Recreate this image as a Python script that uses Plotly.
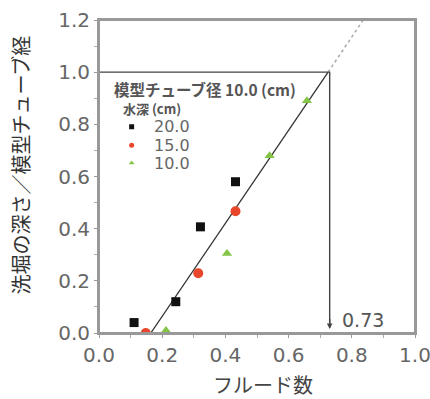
import plotly.graph_objects as go

# data
depth_labels = ["20.0", "15.0", "10.0"]
froude_20 = [0.111, 0.243, 0.321, 0.432]
ratio_20 = [0.04, 0.12, 0.407, 0.58]
froude_15 = [0.148, 0.314, 0.432]
ratio_15 = [0.0, 0.229, 0.467]
froude_10 = [0.212, 0.405, 0.54, 0.658]
ratio_10 = [0.01, 0.305, 0.68, 0.89]
fit_x = [0.164, 0.725]
fit_y = [0.0, 1.0]
ext_x = [0.725, 0.836]
ext_y = [1.0, 1.2]
critical_froude = 0.73
ratio_one = 1.0
x_ticks = [0.0, 0.2, 0.4, 0.6, 0.8, 1.0]
y_ticks = [0.0, 0.2, 0.4, 0.6, 0.8, 1.0, 1.2]

colors = ["#111111", "#e9472c", "#84c446"]
symbols = ["square", "circle", "triangle-up"]
sizes = [9, 10, 9]
xs = [froude_20, froude_15, froude_10]
ys = [ratio_20, ratio_15, ratio_10]
legend_ids = ["legend", "legend2", "legend3"]
legend_y = [0.659, 0.600, 0.543]

fig = go.Figure()

# fit line and extension
fig.add_trace(go.Scatter(x=fit_x, y=fit_y, mode="lines",
                         line=dict(color="#333333", width=1.3), showlegend=False))
fig.add_trace(go.Scatter(x=ext_x, y=ext_y, mode="lines",
                         line=dict(color="#aaaaaa", width=1.5, dash="dot"), showlegend=False))

# critical box lines
fig.add_trace(go.Scatter(x=[0, critical_froude, critical_froude], y=[ratio_one, ratio_one, 0.03],
                         mode="lines", line=dict(color="#444444", width=1.4), showlegend=False))
fig.add_annotation(x=critical_froude, y=0.015, ax=critical_froude, ay=0.06, axref="x", ayref="y",
                   xref="x", yref="y", showarrow=True, arrowhead=2, arrowsize=0.8,
                   arrowwidth=1.4, arrowcolor="#444444", text="")
fig.add_annotation(x=0.762, y=0.05, xref="x", yref="y", text=f"{critical_froude:.2f}",
                   showarrow=False, xanchor="left", yanchor="middle",
                   font=dict(family="DejaVu Sans", size=19, color="#555555"))

legend_common = dict(x=0.04, xanchor="left", yanchor="middle", bgcolor="rgba(0,0,0,0)",
                     font=dict(family="DejaVu Sans", size=10, color="#666666"),
                     borderwidth=0, itemwidth=30)

for i in range(3):
    fig.add_trace(go.Scatter(x=xs[i], y=ys[i], mode="markers",
                             marker=dict(color=colors[i], symbol=symbols[i], size=sizes[i]),
                             showlegend=False))
    fig.add_trace(go.Scatter(x=[None], y=[None], mode="markers", name="",
                             legend=legend_ids[i],
                             marker=dict(color=colors[i], symbol=symbols[i], size=5)))
    fig.add_annotation(x=0.168, y=legend_y[i], xref="paper", yref="paper", text=depth_labels[i],
                       showarrow=False, xanchor="left", yanchor="middle",
                       font=dict(family="DejaVu Sans", size=16, color="#666666"))

# legend title text
fig.add_annotation(x=0.041, y=0.779, xref="paper", yref="paper", text="模型チューブ径 10.0 (cm)",
                   showarrow=False, xanchor="left", yanchor="middle",
                   font=dict(family="Noto Sans CJK JP", size=15.5, color="#555555", weight="bold"))
fig.add_annotation(x=0.069, y=0.717, xref="paper", yref="paper", text="水深 (cm)",
                   showarrow=False, xanchor="left", yanchor="middle",
                   font=dict(family="Noto Sans CJK JP", size=13, color="#555555", weight="bold"))

# axis titles
fig.add_annotation(x=-0.248, y=0.537, xref="paper", yref="paper", text="洗堀の深さ／模型チューブ経",
                   showarrow=False, textangle=-90, xanchor="center", yanchor="middle",
                   font=dict(family="Noto Sans CJK JP", size=20, color="#333333"))
fig.add_annotation(x=0.52, y=-0.166, xref="paper", yref="paper", text="フルード数",
                   showarrow=False, xanchor="center", yanchor="middle",
                   font=dict(family="Noto Sans CJK JP", size=20, color="#444444"))

# plot frame
fig.add_shape(type="rect", xref="paper", yref="paper", x0=0, y0=0, x1=1, y1=1,
              line=dict(color="#999999", width=2), layer="above")

axis_common = dict(showline=True, linecolor="#999999", linewidth=2, mirror=True,
                   showgrid=False, zeroline=False, ticks="outside", ticklen=3,
                   tickcolor="#999999", tickwidth=1, automargin=False,
                   ticklabeloverflow="allow",
                   tickfont=dict(family="DejaVu Sans", size=20, color="#666666"),
                   minor=dict(ticks="outside", ticklen=3, tickcolor="#aaaaaa", dtick=0.1))

fig.update_xaxes(range=[0, 1.0], tickvals=x_ticks, ticktext=[f"{v:.1f}" for v in x_ticks],
                 **axis_common)
fig.update_yaxes(range=[0, 1.2], tickvals=y_ticks, ticktext=[f"{v:.1f}" for v in y_ticks],
                 **axis_common)

fig.update_layout(
    width=430, height=399,
    margin=dict(l=99, r=15, t=20, b=66),
    plot_bgcolor="white", paper_bgcolor="white",
    legend=dict(y=legend_y[0], **legend_common),
    legend2=dict(y=legend_y[1], **legend_common),
    legend3=dict(y=legend_y[2], **legend_common),
)

fig.write_html("out.html", config={"displayModeBar": False},
               post_script="document.body.style.margin='0px';document.documentElement.style.overflow='hidden';document.body.style.overflow='hidden';")
